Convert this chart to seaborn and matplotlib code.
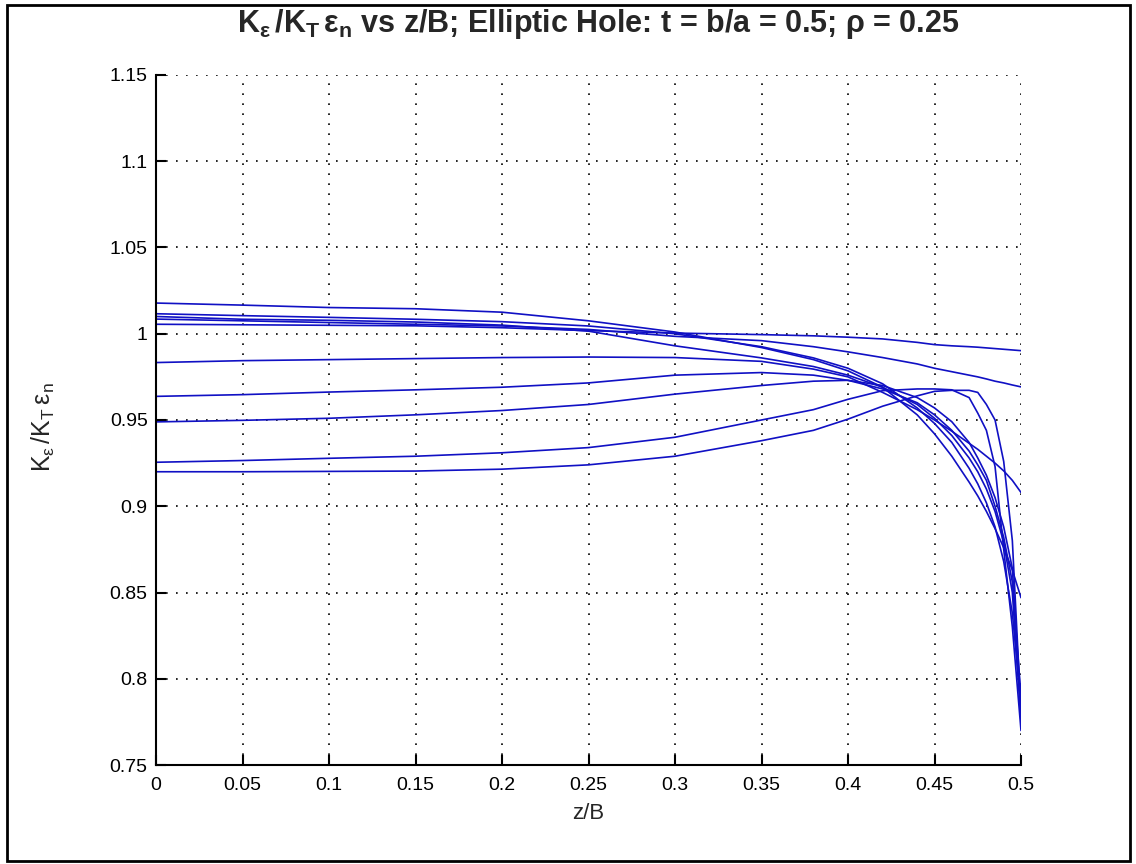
import numpy as np
import pandas as pd
import matplotlib
matplotlib.use("Agg")
import matplotlib.pyplot as plt
from matplotlib.patches import Rectangle
import seaborn as sns

# ---- data ----
z_over_B = [0, .05, .1, .15, .2, .25, .3, .35, .38, .40, .42, .44, .45, .46, .47, .475, .48, .485, .49, .495, .5]

curve_A = [1.0178, 1.0166, 1.0152, 1.0145, 1.0125, 1.0075, 1.0010, 0.9920, 0.9850, 0.9785, 0.9690, 0.9530, 0.9420, 0.9290, 0.9140, 0.9060, 0.8970, 0.8870, 0.8760, 0.8630, 0.8470]
curve_B = [1.0116, 1.0105, 1.0095, 1.0084, 1.0070, 1.0045, 1.0000, 0.9925, 0.9860, 0.9800, 0.9710, 0.9570, 0.9480, 0.9370, 0.9220, 0.9130, 0.9020, 0.8880, 0.8680, 0.8380, 0.7850]
curve_C = [1.0100, 1.0084, 1.0078, 1.0068, 1.0050, 1.0015, 0.9930, 0.9860, 0.9810, 0.9760, 0.9690, 0.9590, 0.9510, 0.9410, 0.9280, 0.9200, 0.9100, 0.8970, 0.8790, 0.8500, 0.7750]
curve_D = [1.0085, 1.0075, 1.0065, 1.0055, 1.0045, 1.0025, 0.9985, 0.9960, 0.9925, 0.9895, 0.9862, 0.9825, 0.9800, 0.9780, 0.9760, 0.9750, 0.9738, 0.9725, 0.9715, 0.9703, 0.9692]
curve_E = [1.0055, 1.0052, 1.0049, 1.0046, 1.0035, 1.0018, 1.0004, 0.9995, 0.9988, 0.9980, 0.9970, 0.9950, 0.9937, 0.9930, 0.9925, 0.9922, 0.9918, 0.9914, 0.9910, 0.9906, 0.9902]
curve_F = [0.9833, 0.9844, 0.9850, 0.9856, 0.9862, 0.9865, 0.9862, 0.9840, 0.9795, 0.9750, 0.9660, 0.9560, 0.9500, 0.9435, 0.9365, 0.9330, 0.9290, 0.9250, 0.9205, 0.9150, 0.9080]
curve_G = [0.9637, 0.9647, 0.9662, 0.9675, 0.9690, 0.9715, 0.9760, 0.9775, 0.9760, 0.9730, 0.9680, 0.9600, 0.9530, 0.9440, 0.9320, 0.9240, 0.9150, 0.9000, 0.8820, 0.8560, 0.7900]
curve_H = [0.9489, 0.9498, 0.9510, 0.9530, 0.9555, 0.9590, 0.9650, 0.9700, 0.9725, 0.9730, 0.9700, 0.9630, 0.9570, 0.9490, 0.9370, 0.9280, 0.9180, 0.9050, 0.8880, 0.8640, 0.7800]
curve_I = [0.9255, 0.9265, 0.9278, 0.9290, 0.9310, 0.9340, 0.9400, 0.9500, 0.9560, 0.9620, 0.9670, 0.9680, 0.9680, 0.9675, 0.9630, 0.9540, 0.9440, 0.9230, 0.8750, 0.8300, 0.7700]
curve_J = [0.9200, 0.9200, 0.9202, 0.9204, 0.9215, 0.9240, 0.9290, 0.9380, 0.9440, 0.9505, 0.9580, 0.9640, 0.9666, 0.9672, 0.9672, 0.9660, 0.9590, 0.9500, 0.9260, 0.8800, 0.7800]

curve_names = ["A", "B", "C", "D", "E", "F", "G", "H", "I", "J"]
curve_values = [curve_A, curve_B, curve_C, curve_D, curve_E, curve_F, curve_G, curve_H, curve_I, curve_J]

x_ticks = [0, 0.05, 0.1, 0.15, 0.2, 0.25, 0.3, 0.35, 0.4, 0.45, 0.5]
x_tick_labels = ["0", "0.05", "0.1", "0.15", "0.2", "0.25", "0.3", "0.35", "0.4", "0.45", "0.5"]
y_ticks = [0.75, 0.8, 0.85, 0.9, 0.95, 1.0, 1.05, 1.1, 1.15]
y_tick_labels = ["0.75", "0.8", "0.85", "0.9", "0.95", "1", "1.05", "1.1", "1.15"]

# ---- long-form table ----
rows = []
for name, vals in zip(curve_names, curve_values):
    for zx, v in zip(z_over_B, vals):
        rows.append({"curve": name, "zB": zx, "ratio": v})
df = pd.DataFrame(rows)

# ---- style ----
sns.set_theme(style="white")
plt.rcParams['font.family'] = ['Liberation Sans', 'DejaVu Sans']
plt.rcParams['mathtext.fontset'] = 'custom'
plt.rcParams['mathtext.rm'] = 'Liberation Sans'
plt.rcParams['mathtext.it'] = 'Liberation Sans'
plt.rcParams['mathtext.bf'] = 'Liberation Sans:bold'

line_color = "#1010c4"
W, H = 1136, 864

fig = plt.figure(figsize=(W / 100, H / 100), dpi=100)
fig.patch.set_facecolor("white")
ax_left, ax_right, ax_top, ax_bottom = 156, 1021, 75, 765
ax = fig.add_axes([ax_left / W, 1 - ax_bottom / H, (ax_right - ax_left) / W, (ax_bottom - ax_top) / H])

sns.lineplot(data=df, x="zB", y="ratio", hue="curve", palette=[line_color] * len(curve_names),
             estimator=None, sort=False, legend=False, ax=ax, linewidth=1.2)

ax.set_xlim(0, 0.5)
ax.set_ylim(0.75, 1.15)
ax.set_xticks(x_ticks)
ax.set_xticklabels(x_tick_labels)
ax.set_yticks(y_ticks)
ax.set_yticklabels(y_tick_labels)

ax.grid(True, color="black", linestyle=(0, (1, 5)), linewidth=1.2)
ax.set_axisbelow(True)
for side in ["top", "right"]:
    ax.spines[side].set_visible(False)
for side in ["left", "bottom"]:
    ax.spines[side].set_color("black")
    ax.spines[side].set_linewidth(1.5)

ax.tick_params(axis="both", direction="in", length=7, width=1.5, colors="black",
               labelsize=14, bottom=True, left=True, top=False, right=False)
ax.tick_params(axis="x", pad=9)
ax.tick_params(axis="y", pad=6)

ax.set_xlabel("z/B", fontsize=16, labelpad=6)
ax.set_ylabel(r"$\mathrm{K_{\epsilon}\,/K_{T}\,\epsilon_{n}}$", fontsize=18)
ax.yaxis.set_label_coords(-0.115, 0.49)

fig.text(598 / W, 1 - 32 / H,
         r"$\mathbf{K_{\epsilon}\,/K_{T}\,\epsilon_{n}}$ vs z/B; Elliptic Hole: t = b/a = 0.5; ρ = 0.25",
         fontsize=22, fontweight="bold", ha="center", va="baseline")

# figure frame
fig.add_artist(Rectangle((7 / W, 1 - 861 / H), (1130 - 7) / W, (861 - 5) / H,
                         transform=fig.transFigure, fill=False, edgecolor="black", linewidth=2.0))

fig.savefig("out.png", dpi=100, facecolor="white")
